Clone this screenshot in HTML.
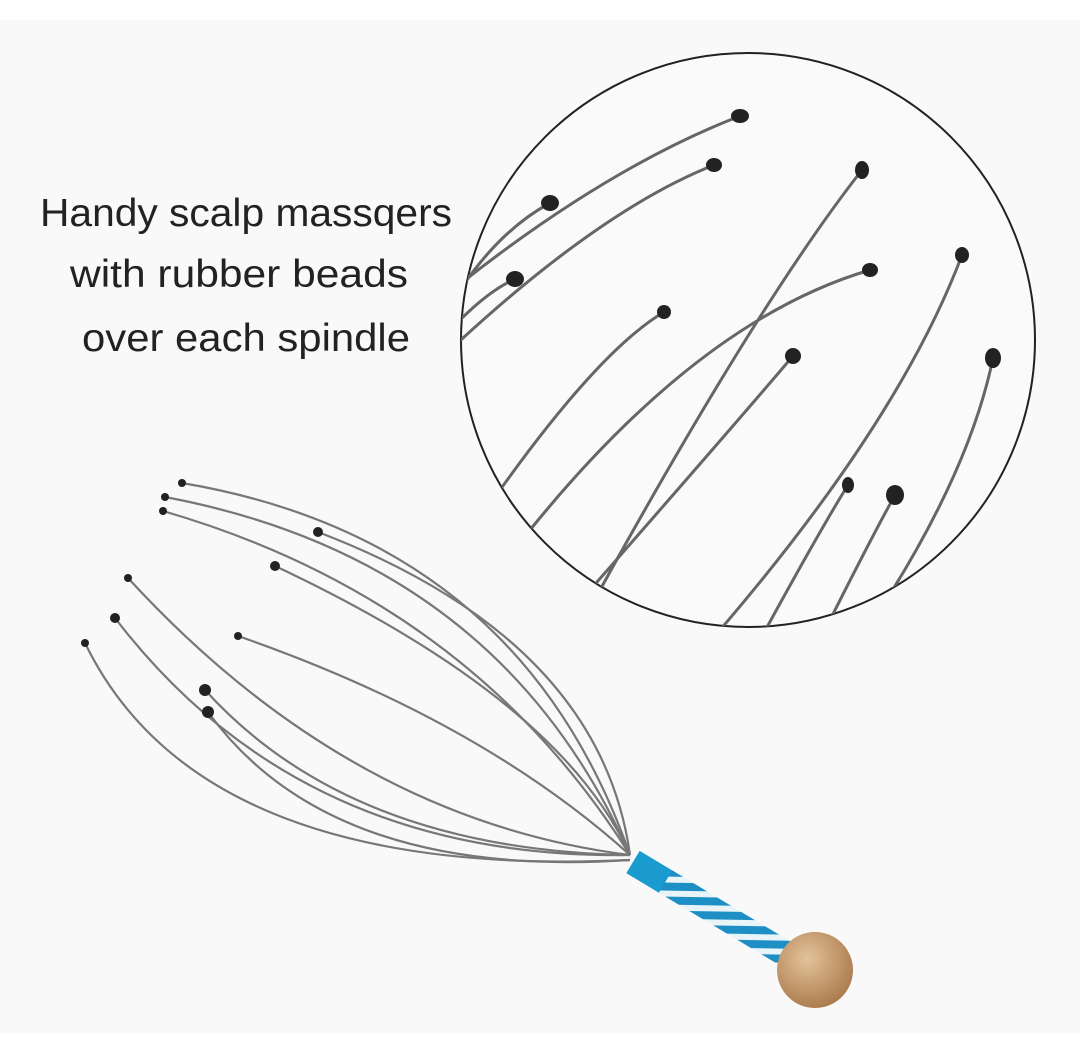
<!DOCTYPE html>
<html><head><style>
body{margin:0;background:#fff;}
.t{font-family:"Liberation Sans",sans-serif;font-size:39px;fill:#222}
</style></head><body>
<svg width="1080" height="1033" viewBox="0 0 1080 1033" xmlns="http://www.w3.org/2000/svg">
<defs>
<clipPath id="c"><circle cx="748" cy="340" r="287"/></clipPath>
<pattern id="st" width="14" height="14" patternUnits="userSpaceOnUse" patternTransform="rotate(60)">
<rect width="14" height="14" fill="#1d8fc4"/><rect width="6" height="14" fill="#e8f4f8"/></pattern>
<radialGradient id="w" cx="0.4" cy="0.35" r="0.7"><stop offset="0" stop-color="#e3c39a"/><stop offset="1" stop-color="#a9784a"/></radialGradient>
</defs>
<rect x="0" y="20" width="1080" height="1013" fill="#f9f9f9"/>
<text class="t" x="40" y="226" textLength="412" lengthAdjust="spacingAndGlyphs">Handy scalp massqers</text>
<text class="t" x="70" y="287" textLength="338" lengthAdjust="spacingAndGlyphs">with rubber beads</text>
<text class="t" x="82" y="351" textLength="328" lengthAdjust="spacingAndGlyphs">over each spindle</text>
<circle cx="748" cy="340" r="287" fill="#fafafa" stroke="#222" stroke-width="2"/>
<g clip-path="url(#c)" fill="none" stroke="#666" stroke-width="3">
<path d="M440 300 Q600 170 740 116"/>
<path d="M450 350 Q600 210 714 165"/>
<path d="M460 290 Q500 230 550 203"/>
<path d="M460 320 Q490 290 515 279"/>
<path d="M500 490 Q600 350 664 312"/>
<path d="M600 590 Q760 300 862 170"/>
<path d="M530 530 Q700 320 870 270"/>
<path d="M720 630 Q900 420 962 255"/>
<path d="M590 590 Q730 430 793 356"/>
<path d="M880 610 Q970 470 993 358"/>
<path d="M760 640 Q820 530 848 485"/>
<path d="M820 640 Q870 540 895 495"/>
</g>
<g fill="#222">
<ellipse cx="740" cy="116" rx="9" ry="7"/><ellipse cx="714" cy="165" rx="8" ry="7"/>
<ellipse cx="550" cy="203" rx="9" ry="8"/><ellipse cx="515" cy="279" rx="9" ry="8"/>
<ellipse cx="664" cy="312" rx="7" ry="7"/><ellipse cx="862" cy="170" rx="7" ry="9"/>
<ellipse cx="870" cy="270" rx="8" ry="7"/><ellipse cx="962" cy="255" rx="7" ry="8"/>
<ellipse cx="793" cy="356" rx="8" ry="8"/><ellipse cx="993" cy="358" rx="8" ry="10"/>
<ellipse cx="848" cy="485" rx="6" ry="8"/><ellipse cx="895" cy="495" rx="9" ry="10"/>
</g>
<g fill="none" stroke="#777" stroke-width="2.2">
<path d="M182 483 Q520 540 630 855"/>
<path d="M165 497 Q500 560 630 855"/>
<path d="M163 511 Q470 600 630 855"/>
<path d="M318 532 Q600 640 630 855"/>
<path d="M275 566 Q560 700 630 855"/>
<path d="M128 578 Q350 820 630 855"/>
<path d="M115 618 Q300 860 630 855"/>
<path d="M85 643 Q200 880 630 860"/>
<path d="M238 636 Q480 720 630 855"/>
<path d="M205 690 Q350 850 630 855"/>
<path d="M208 712 Q330 880 630 860"/>
</g>
<g fill="#222">
<circle cx="182" cy="483" r="4"/><circle cx="165" cy="497" r="4"/><circle cx="163" cy="511" r="4"/>
<circle cx="318" cy="532" r="5"/><circle cx="275" cy="566" r="5"/><circle cx="128" cy="578" r="4"/>
<circle cx="115" cy="618" r="5"/><circle cx="85" cy="643" r="4"/><circle cx="238" cy="636" r="4"/>
<circle cx="205" cy="690" r="6"/><circle cx="208" cy="712" r="6"/>
</g>
<g transform="translate(633,862) rotate(31)">
<rect x="0" y="-13" width="40" height="26" fill="#1a9bd0"/>
<rect x="38" y="-13" width="145" height="26" fill="url(#st)"/>
</g>
<circle cx="815" cy="970" r="38" fill="url(#w)"/>
</svg>
</body></html>
